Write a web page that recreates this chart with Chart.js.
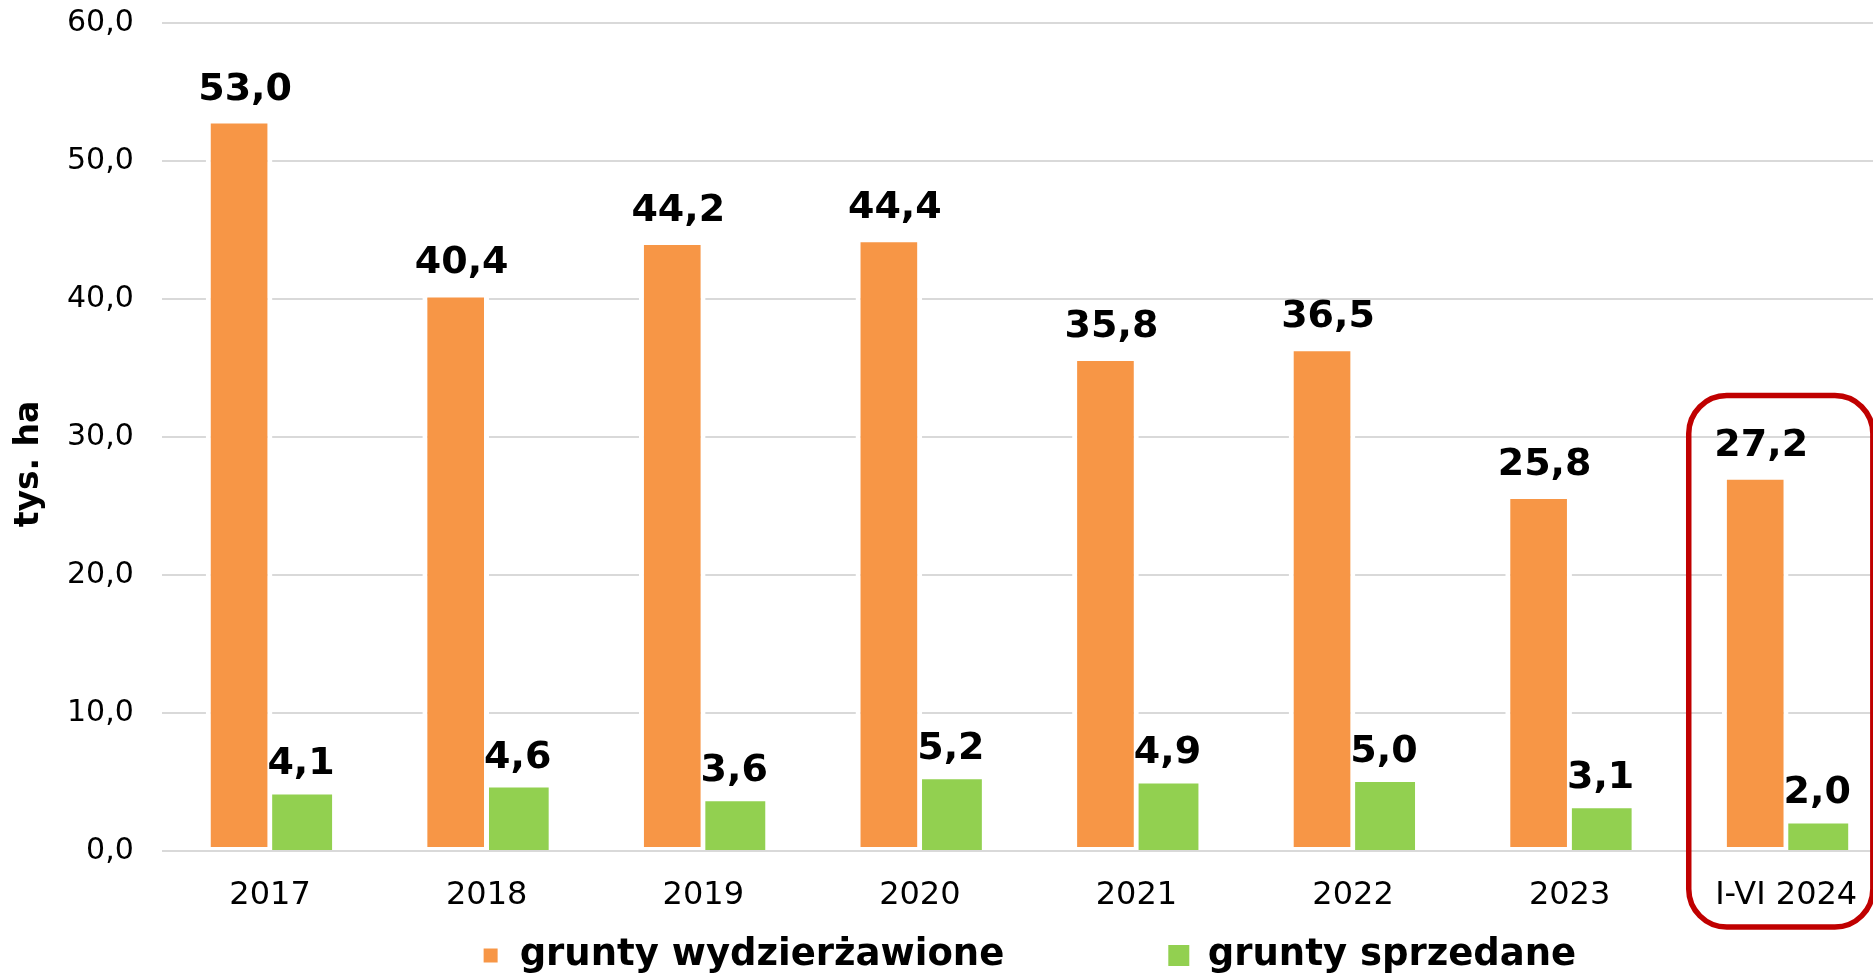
<!DOCTYPE html>
<html>
<head>
<meta charset="utf-8">
<script src="https://cdn.jsdelivr.net/npm/chart.js@4.4.1/dist/chart.umd.min.js"></script>
<style>
  html, body { margin: 0; padding: 0; background: #fff; overflow: hidden; }
  #wrap { position: absolute; left: 0; top: 0; width: 1900px; height: 984px; }
</style>
</head>
<body>
<div id="wrap"><canvas id="myChart"></canvas></div>
<script>
var years = ["2017", "2018", "2019", "2020", "2021", "2022", "2023", "I-VI 2024"];
var leased = [53.0, 40.4, 44.2, 44.4, 35.8, 36.5, 25.8, 27.2];
var sold = [4.1, 4.6, 3.6, 5.2, 4.9, 5.0, 3.1, 2.0];
var yTicks = [0, 10, 20, 30, 40, 50, 60];
var seriesNames = ["grunty wydzierżawione", "grunty sprzedane"];
var axisTitle = "tys. ha";
var markedIndex = 7; // I-VI 2024 gets the red frame

var fmt = function(v){
	return v.toFixed(1).replace('.', ',');
};

Chart.defaults.font.family = '"DejaVu Sans", Verdana, sans-serif';
Chart.defaults.color = '#000';

// numbers above the bars
var valueLabels = {
	id: 'valueLabels',
	afterDatasetsDraw: function(chart){
		var ctx = chart.ctx, y = chart.scales.y;
		ctx.save();
		ctx.font = 'bold 38px "DejaVu Sans", Verdana, sans-serif';
		ctx.fillStyle = '#000';
		ctx.textAlign = 'center';
		ctx.textBaseline = 'alphabetic';
		chart.data.datasets.forEach(function(ds, i){
			var shift = i === 0 ? 6 : 0; // source labels sit a bit right of the orange bars
			chart.getDatasetMeta(i).data.forEach(function(bar, j){
				ctx.fillText(fmt(ds.data[j]), bar.x + shift, y.getPixelForValue(ds.data[j]) - 20);
			});
		});
		ctx.restore();
	}
};

// rotated unit label, sits a little below the middle like in the source
var unitTitle = {
	id: 'unitTitle',
	afterDraw: function(chart){
		var ctx = chart.ctx, a = chart.chartArea;
		ctx.save();
		ctx.translate(a.left - 132, (a.top + a.bottom) / 2 + 27);
		ctx.rotate(-Math.PI / 2);
		ctx.font = 'bold 33px "DejaVu Sans", Verdana, sans-serif';
		ctx.fillStyle = '#000';
		ctx.textAlign = 'center';
		ctx.textBaseline = 'middle';
		ctx.fillText(axisTitle, 0, 0);
		ctx.restore();
	}
};

// red rounded frame round the last category
var frame = {
	id: 'frame',
	afterDraw: function(chart){
		var ctx = chart.ctx, x = chart.scales.x, y = chart.scales.y;
		var w = x.width / years.length;
		var c = x.getPixelForValue(markedIndex);
		var l = c - 0.45 * w, r = c + 0.4 * w;
		var t = y.getPixelForValue(33.0), b = chart.chartArea.bottom + 76;
		ctx.save();
		ctx.strokeStyle = '#C00000';
		ctx.lineWidth = 5.5;
		ctx.beginPath();
		ctx.roundRect(l, t, r - l, b - t, 38);
		ctx.stroke();
		ctx.restore();
	}
};

var ctx = document.getElementById('myChart').getContext('2d');
var myChart = new Chart(ctx, {
	type: 'bar',
	data: {
		labels: years,
		datasets: [{
			label: seriesNames[0],
			data: leased,
			backgroundColor: '#F79646',
			borderColor: '#fff',
			borderWidth: {top: 4, left: 5, right: 5, bottom: 3},
			borderSkipped: false,
			inflateAmount: 0,
			barPercentage: 1.075,
			categoryPercentage: 0.5725
		}, {
			label: seriesNames[1],
			data: sold,
			backgroundColor: '#92D050',
			borderWidth: 0,
			inflateAmount: 0,
			barPercentage: 1.0,
			categoryPercentage: 0.5725
		}]
	},
	options: {
		responsive: true,
		maintainAspectRatio: false,
		animation: false,
		devicePixelRatio: 1,
		layout: {padding: {left: 39, right: 5.5, top: 0, bottom: 0}},
		plugins: {
			tooltip: {enabled: false},
			legend: {
				position: 'bottom',
				fullSize: false,
				// empty title with negative padding pulls the row up,
				// so the wide item gap does not push it off the page
				title: {display: true, text: '', font: {size: 1, lineHeight: 1}, padding: {top: -39.5, bottom: -39.5}},
				labels: {
					font: {size: 37, weight: 'bold'},
					color: '#000',
					boxWidth: 21,
					boxHeight: 21,
					padding: 164,
					generateLabels: function(chart){
						var items = Chart.defaults.plugins.legend.labels.generateLabels(chart);
						items[0].lineWidth = 7;
						return items;
					}
				}
			}
		},
		scales: {
			x: {
				grid: {display: false},
				border: {display: false},
				// mirrored + negative padding: labels still sit under the axis,
				// but the axis takes no room so the legend can come up close
				ticks: {font: {size: 32}, color: '#000', mirror: true, padding: -64, maxRotation: 0, autoSkip: false},
				afterFit: function(scale){ scale.height = 0; }
			},
			y: {
				min: yTicks[0],
				max: yTicks[yTicks.length - 1],
				grid: {color: '#D9D9D9', lineWidth: 2, drawTicks: false},
				border: {display: false},
				ticks: {
					stepSize: yTicks[1] - yTicks[0],
					font: {size: 30},
					color: '#000',
					padding: 28,
					callback: function(v){ return fmt(v); }
				},
				afterFit: function(scale){ scale.paddingTop = 23; }
			}
		}
	},
	plugins: [valueLabels, unitTitle, frame]
});
</script>
</body>
</html>
